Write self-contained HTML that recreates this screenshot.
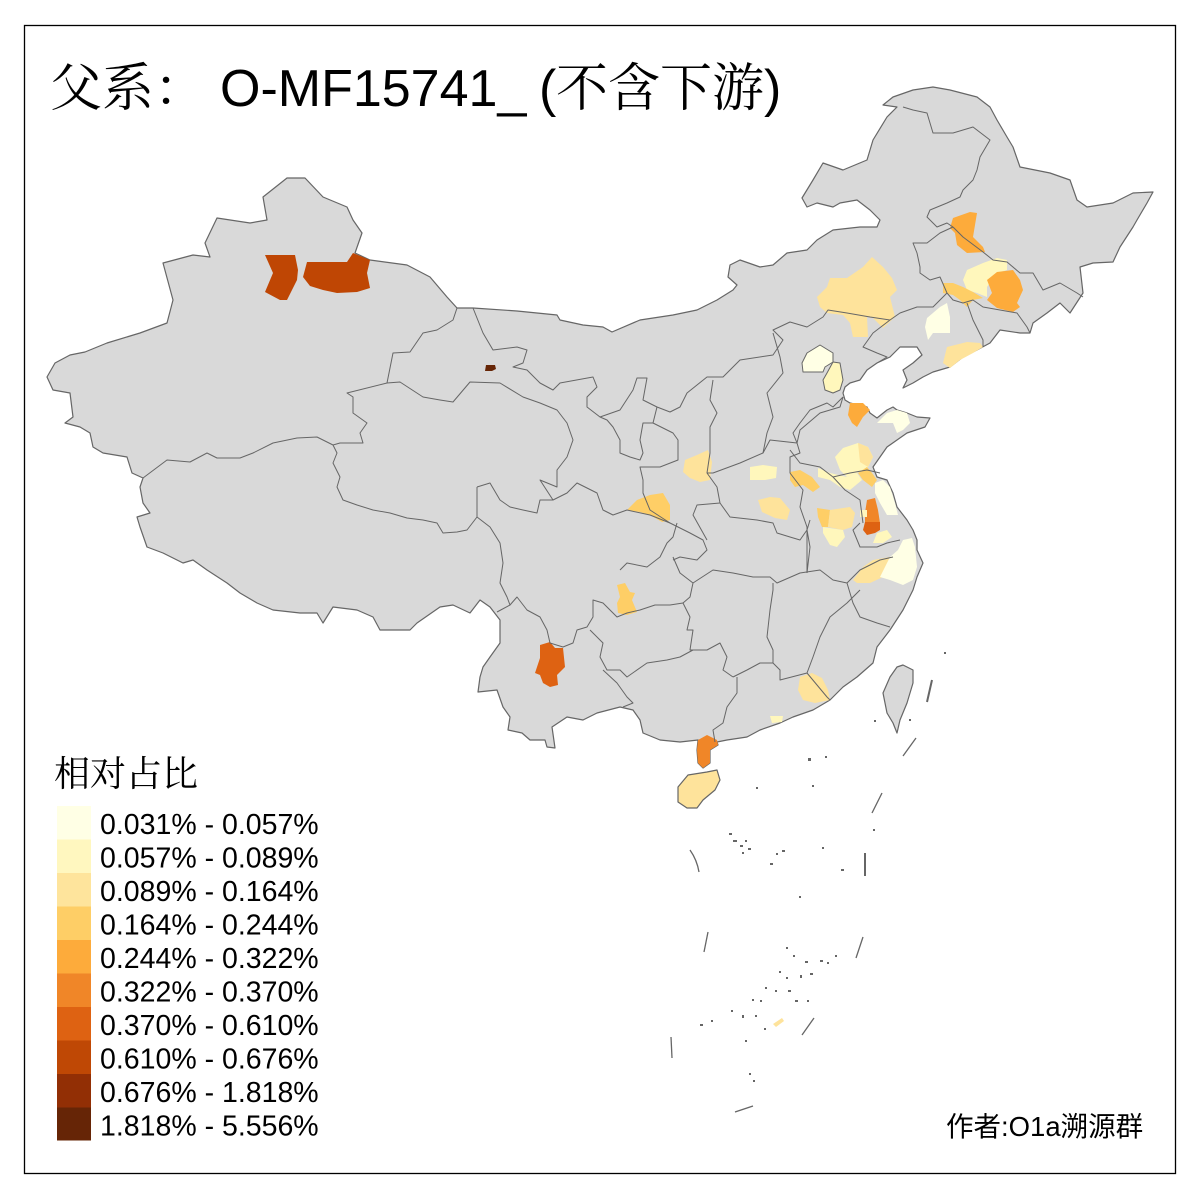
<!DOCTYPE html>
<html><head><meta charset="utf-8">
<style>
html,body{margin:0;padding:0;background:#fff;}
svg{display:block;}
.t{font-family:"Liberation Sans","Noto Sans CJK SC",sans-serif;fill:#000;}
.s{font-family:"Liberation Serif","Noto Serif CJK SC",serif;fill:#000;}
</style></head>
<body>
<svg width="1200" height="1200" viewBox="0 0 1200 1200" xmlns="http://www.w3.org/2000/svg">
<rect x="0" y="0" width="1200" height="1200" fill="#fff"/>
<rect x="24.5" y="25.5" width="1151" height="1148" fill="none" stroke="#000" stroke-width="1.3"/>

<!-- mainland -->
<g stroke="#666" stroke-width="1.2" fill="#d9d9d9" stroke-linejoin="round">
<polygon points="47,377 55,363 70,355 85,352 107,343 140,333 167,323 173,300 163,263 193,255 210,257 205,243 217,218 250,223 267,220 263,197 287,178 305,178 323,197 347,207 353,220 362,233 355,253 370,260 407,265 430,277 447,297 457,308 473,308 517,311 557,315 560,320 583,325 603,327 612,332 640,320 673,315 697,310 717,300 733,290 737,285 728,277 730,265 740,260 760,267 773,265 787,253 807,250 817,240 833,230 860,227 877,227 880,220 870,210 857,200 840,203 833,207 817,203 807,207 802,198 813,180 823,163 843,170 867,160 873,140 887,117 897,107 883,105 893,97 913,90 933,87 950,90 977,97 990,107 997,120 1007,137 1013,147 1020,167 1050,173 1070,180 1077,200 1087,207 1113,203 1133,193 1153,192 1147,203 1137,220 1133,227 1120,247 1113,262 1093,263 1080,267 1083,293 1070,313 1060,303 1047,313 1033,323 1030,333 1020,333 1000,330 990,343 977,350 963,357 950,367 933,372 923,377 913,383 903,388 907,380 903,370 913,363 922,355 917,347 900,347 890,357 877,363 867,370 860,380 850,383 845,387 843,393 845,400 850,403 867,407 870,413 877,418 887,410 893,407 897,410 907,413 917,417 930,418 925,427 907,433 897,440 887,447 880,457 873,467 877,477 887,480 893,493 897,507 907,520 913,530 917,540 917,550 923,563 917,577 913,590 903,610 890,630 877,647 873,663 857,677 843,687 830,700 813,710 793,717 780,723 760,730 747,737 727,740 717,742 718,745 710,750 710,763 703,768 698,763 697,750 698,740 680,742 660,740 643,733 640,720 633,710 620,707 597,713 583,720 567,717 552,727 555,748 547,747 545,740 530,740 522,733 508,730 510,717 503,707 497,690 478,692 480,677 483,667 490,657 500,643 500,620 490,607 480,600 470,613 453,605 440,607 417,623 410,630 380,630 373,617 357,610 333,607 323,623 317,613 300,613 273,610 257,603 240,593 227,583 207,570 193,560 183,563 163,553 147,547 140,527 137,517 150,513 143,503 140,487 143,478 132,473 127,457 103,453 93,447 90,433 80,427 65,423 73,417 70,393 53,390"/>
<!-- Hainan -->
<polygon points="678,787 688,775 707,772 717,770 720,780 715,790 703,800 697,808 687,808 678,802" fill="#fee39b"/>
<!-- Taiwan -->
<polygon points="897,667 903,665 913,670 913,683 907,703 900,720 897,733 893,723 887,713 883,693 890,677"/>
</g>

<!-- colored regions -->
<g stroke="none">
<polygon fill="#bf4604" points="265,255 295,255 298,270 297,280 287,300 280,300 265,292 273,273"/>
<polygon fill="#bf4604" points="307,262 347,262 353,253 370,260 367,273 370,288 357,292 337,293 323,290 310,286 303,277"/>
<polygon fill="#662506" points="486,365 495,365 496,369 492,371 485,371"/>
<polygon fill="#fdab3b" points="953,218 970,212 977,213 973,237 983,247 985,252 967,253 957,245 955,233 950,228"/>
<polygon fill="#fff7bc" points="967,270 983,263 997,258 1007,260 1007,270 997,273 987,287 987,297 977,293 967,290 963,280"/>
<polygon fill="#fece66" points="943,283 953,283 963,287 973,292 983,298 973,300 967,307 960,300 953,295 943,293"/>
<polygon fill="#fdab3b" points="987,280 997,272 1013,270 1020,280 1023,290 1017,303 1020,307 1013,312 997,308 987,300 992,293"/>
<polygon fill="#fee39b" points="817,297 827,287 830,278 847,278 863,267 872,257 883,267 892,278 897,290 890,297 895,317 883,328 873,318 867,317 868,337 853,337 850,323 843,315 827,313 820,307"/>
<polygon fill="#ffffe5" points="927,318 940,307 947,303 950,317 950,333 933,333 928,340 925,327"/>
<polygon fill="#fee39b" points="947,347 967,342 980,343 983,347 973,353 960,360 950,368 943,363"/>
<polygon fill="#ffffe5" points="807,353 820,345 833,353 833,362 825,367 823,372 803,372 802,363"/>
<polygon fill="#fff7bc" points="833,362 840,363 843,380 840,390 833,393 825,390 823,380 827,373"/>
<polygon fill="#fdab3b" points="850,403 863,403 870,410 863,417 857,427 852,423 848,415"/>
<polygon fill="#ffffe5" points="877,423 887,413 897,410 907,413 910,423 903,430 897,433 893,423"/>
<polygon fill="#fff7bc" points="835,457 843,448 858,443 868,447 873,457 868,467 857,473 847,477 840,470"/>
<polygon fill="#fee39b" points="858,443 868,447 873,457 868,467 860,462"/>
<polygon fill="#fff7bc" points="818,468 830,473 847,477 857,473 862,480 850,490 840,487 830,480 818,477"/>
<polygon fill="#fece66" points="858,473 867,467 872,473 877,480 872,487 863,480"/>
<polygon fill="#fece66" points="790,472 800,470 812,477 820,487 813,492 803,485 795,487 790,480"/>
<polygon fill="#fff7bc" points="750,467 763,465 777,467 776,478 765,480 750,480"/>
<polygon fill="#ffffe5" points="875,483 883,480 890,487 895,503 898,515 887,515 880,503 875,493"/>
<polygon fill="#f08628" points="867,500 875,498 878,510 880,523 865,523 865,513"/>
<polygon fill="#de6212" points="865,522 880,522 880,530 875,533 867,535 863,530"/>
<polygon fill="#fece66" points="817,508 830,510 828,527 822,527 818,517"/>
<polygon fill="#fee39b" points="830,510 850,507 855,513 852,527 843,530 828,527"/>
<polygon fill="#fff7bc" points="823,527 843,530 845,537 837,547 830,545 823,533"/>
<polygon fill="#fff7bc" points="860,510 867,510 867,517 860,517"/>
<polygon fill="#fff7bc" points="877,533 887,530 892,537 883,543 873,543"/>
<polygon fill="#fee39b" points="853,580 863,567 873,560 890,557 893,567 883,577 870,583 857,583"/>
<polygon fill="#ffffe5" points="890,557 898,550 903,540 912,538 915,547 917,567 913,580 903,585 890,580 880,577"/>
<polygon fill="#fee39b" points="758,500 770,497 780,498 790,510 787,520 775,518 762,512"/>
<polygon fill="#fee39b" points="685,460 697,455 708,450 712,462 710,480 700,482 690,478 683,472"/>
<polygon fill="#fece66" points="627,510 637,500 650,495 663,493 670,505 670,520 662,522 650,515 640,512"/>
<polygon fill="#fece66" points="617,585 625,583 630,592 635,593 632,600 637,612 627,615 618,613 617,603 620,597"/>
<polygon fill="#de6212" points="540,645 550,642 555,648 563,648 565,667 557,675 558,685 550,687 543,683 540,675 535,673 537,667 540,658"/>
<polygon fill="#f08628" points="698,740 707,735 717,740 718,745 710,750 710,763 703,768 698,763 697,750"/>
<polygon fill="#fee39b" points="800,677 812,673 822,678 828,690 830,700 815,703 803,700 798,690"/>
<polygon fill="#fff7bc" points="770,716 783,716 782,722 772,723"/>
<polygon fill="#fee39b" points="773,1024 782,1018 784,1021 776,1027"/>
</g>

<!-- internal borders -->
<g stroke="#666" stroke-width="1" fill="none" stroke-linejoin="round">
<polyline points="457,308 453,320 437,330 423,333 410,352 393,353 387,383 347,393 353,397 353,413 367,423 360,433 363,443 340,443 333,445"/>
<polyline points="333,445 317,437 297,438 273,443 253,453 240,458 217,458 207,453 190,462 167,460 143,478"/>
<polyline points="333,445 337,453 333,463 340,477 337,487 343,500 357,505 373,510 390,513 407,518 423,520 437,523 443,533 457,532 467,530 477,517 477,487"/>
<polyline points="477,517 490,527 500,543 503,563 500,583 507,597 510,605 497,612"/>
<polyline points="387,383 400,382 423,397 440,400 453,402 470,382 500,383 523,397 540,403 557,410 567,423 573,440 567,457 557,470 557,487 540,480 553,500 567,493 577,483 597,493 603,510 613,515 627,510 650,515 670,523 690,533 703,540 707,550 697,560 680,557 673,560"/>
<polyline points="477,487 490,483 500,500 510,507 523,510 537,513 540,500 553,500"/>
<polyline points="473,308 483,333 493,350 517,347 527,350 523,363 513,367 527,370 540,383 553,390 560,383 593,377 597,387 587,397 587,407 600,417 620,410 633,390 637,378 647,378 643,400 657,407 670,412 680,407 687,393 707,377 723,377 740,360 773,355 783,340 773,330 790,322 807,327 823,317 828,310 847,313 870,317 890,320"/>
<polyline points="600,417 607,420 613,427 620,440 620,453 630,457 640,460 643,453 640,440 643,423 653,423 657,407"/>
<polyline points="653,423 673,433 678,440 678,460 660,467 640,467 643,480 643,493 650,510 670,523"/>
<polyline points="713,380 710,400 717,413 710,427 710,453 707,473 717,487 720,503"/>
<polyline points="773,333 780,357 783,373 767,393 773,417 767,433 763,453 740,463 713,473 707,473"/>
<polyline points="763,453 770,440 797,443 800,430 820,413 840,407 843,397"/>
<polyline points="843,397 833,407 827,403 810,410 800,423 793,433 797,443"/>
<polyline points="797,443 800,453 790,457 790,473 803,490 800,507 807,527 807,557 807,573"/>
<polyline points="720,503 730,517 757,520 773,523 777,533 790,537 800,540 807,530"/>
<polyline points="720,503 697,505 693,515 707,540"/>
<polyline points="620,570 627,563 647,567 660,557 667,543 673,537 677,523"/>
<polyline points="673,557 680,573 693,583 690,597 683,603 690,617 687,630 693,630 690,650 693,650"/>
<polyline points="510,605 517,597 527,610 540,617 547,630 550,643 563,647 573,643 577,630 587,627 593,617 593,600 603,603 610,610 617,617 627,613 640,610 655,605 670,605 683,603"/>
<polyline points="590,630 603,643 600,657 607,670 620,670 627,677 647,663 667,660 680,657 693,650 707,650 720,643 727,657 723,670 733,677"/>
<polyline points="603,670 617,683 627,697 633,703 623,707"/>
<polyline points="737,677 737,693 727,707 723,723 713,730 715,742"/>
<polyline points="733,677 747,670 760,663 773,663 780,670 780,680 807,673 813,657 820,637 830,617 847,603 860,590"/>
<polyline points="773,663 773,650 767,637 770,610 773,590 773,583"/>
<polyline points="693,583 713,570 733,573 753,577 770,577 777,583 800,573 820,570 833,580 847,583 853,603 860,617 877,623 890,627"/>
<polyline points="807,673 827,697 830,700"/>
<polyline points="807,573 810,547 807,530 810,520"/>
<polyline points="847,583 860,570 880,560 893,557"/>
<polyline points="860,523 853,530 860,547 877,547 887,543 900,540"/>
<polyline points="790,450 800,463 820,467 833,477 850,473 867,470 880,473"/>
<polyline points="833,477 845,490 860,500 863,523"/>
<polyline points="903,107 913,110 927,113 933,133 953,133 973,127 990,140 980,157 977,170 973,180 963,190 960,197 947,203 930,210 927,217 937,227 947,223 953,227"/>
<polyline points="953,227 963,237 983,252 993,260 1007,262 1020,273 1033,273 1043,290 1060,283 1077,293 1083,297"/>
<polyline points="953,227 940,233 927,243 913,243 917,253 920,267 920,273 930,280 940,277 947,293"/>
<polyline points="947,293 953,300 963,303 973,300 983,307 1000,310 1017,313 1027,327 1030,333"/>
<polyline points="947,293 933,307 917,307 900,313 890,320 873,333 863,347 877,353 887,357 877,363"/>
<polyline points="967,303 973,320 983,340 983,347"/>
<polygon points="807,353 820,345 833,353 833,362 825,367 823,372 803,372 802,363"/>
<polygon points="833,362 840,363 843,380 840,390 833,393 825,390 823,380 827,373"/>
</g>

<!-- south sea -->
<g stroke="#666" stroke-width="1.3" fill="none">
<path d="M690,850 Q697,860 699,872"/>
<line x1="865" y1="853" x2="865" y2="876" stroke-width="2"/>
<line x1="708" y1="932" x2="704" y2="952"/>
<line x1="863" y1="937" x2="856" y2="958"/>
<line x1="671" y1="1037" x2="672" y2="1058"/>
<line x1="814" y1="1018" x2="802" y2="1035"/>
<line x1="735" y1="1112" x2="753" y2="1106"/>
<line x1="882" y1="793" x2="872" y2="813"/>
<line x1="916" y1="738" x2="903" y2="756"/>
<line x1="932" y1="680" x2="927" y2="702" stroke-width="2"/>
</g>
<g fill="#666">
<rect x="729" y="833" width="3" height="2"/><rect x="733" y="840" width="4" height="2"/><rect x="740" y="845" width="3" height="2"/><rect x="745" y="840" width="2" height="2"/><rect x="748" y="848" width="3" height="2"/><rect x="742" y="852" width="2" height="2"/>
<rect x="776" y="853" width="2" height="2"/><rect x="782" y="850" width="3" height="2"/><rect x="770" y="863" width="3" height="2"/><rect x="822" y="847" width="2" height="2"/><rect x="841" y="869" width="3" height="2"/><rect x="799" y="896" width="2" height="2"/>
<rect x="786" y="947" width="2" height="2"/><rect x="793" y="955" width="2" height="2"/><rect x="805" y="961" width="3" height="2"/><rect x="779" y="971" width="2" height="2"/><rect x="786" y="977" width="2" height="2"/><rect x="800" y="975" width="2" height="3"/><rect x="810" y="973" width="3" height="2"/><rect x="820" y="960" width="3" height="2"/><rect x="827" y="962" width="2" height="2"/><rect x="835" y="955" width="2" height="2"/>
<rect x="765" y="987" width="2" height="2"/><rect x="775" y="990" width="2" height="2"/><rect x="788" y="990" width="3" height="2"/><rect x="752" y="999" width="2" height="2"/><rect x="760" y="1000" width="2" height="2"/><rect x="795" y="1000" width="3" height="2"/><rect x="807" y="1000" width="2" height="2"/>
<rect x="731" y="1010" width="2" height="2"/><rect x="742" y="1015" width="2" height="3"/><rect x="755" y="1015" width="2" height="2"/><rect x="764" y="1028" width="2" height="2"/><rect x="700" y="1024" width="3" height="2"/><rect x="711" y="1020" width="2" height="2"/><rect x="745" y="1040" width="2" height="2"/><rect x="749" y="1073" width="2" height="2"/><rect x="753" y="1080" width="2" height="2"/>
<rect x="808" y="758" width="3" height="3"/><rect x="825" y="756" width="2" height="2"/><rect x="873" y="829" width="2" height="2"/><rect x="812" y="785" width="2" height="2"/><rect x="756" y="787" width="2" height="2"/><rect x="874" y="720" width="2" height="2"/><rect x="909" y="719" width="2" height="2"/><rect x="944" y="652" width="2" height="2"/>
</g>

<!-- title -->
<text class="s" x="50" y="106" font-size="52">父系：</text>
<text class="t" x="220" y="106" font-size="52">O-MF15741_</text>
<text class="t" x="539" y="106" font-size="52">(</text>
<text class="s" x="556" y="106" font-size="52">不含下游</text>
<text class="t" x="764" y="106" font-size="52">)</text>

<!-- legend -->
<text class="s" x="54" y="786" font-size="36">相对占比</text>
<g>
<rect x="57" y="806" width="34" height="34" fill="#ffffe5"/>
<rect x="57" y="839.5" width="34" height="34" fill="#fff7bf"/>
<rect x="57" y="873" width="34" height="34" fill="#fee49c"/>
<rect x="57" y="906.5" width="34" height="34" fill="#fece66"/>
<rect x="57" y="940" width="34" height="34" fill="#fdab3b"/>
<rect x="57" y="973.5" width="34" height="34" fill="#f08628"/>
<rect x="57" y="1007" width="34" height="34" fill="#de6212"/>
<rect x="57" y="1040.5" width="34" height="34" fill="#bf4805"/>
<rect x="57" y="1074" width="34" height="34" fill="#922f05"/>
<rect x="57" y="1107.5" width="34" height="33" fill="#662506"/>
</g>
<g class="t" font-size="28.5">
<text x="100" y="834">0.031% - 0.057%</text>
<text x="100" y="867.5">0.057% - 0.089%</text>
<text x="100" y="901">0.089% - 0.164%</text>
<text x="100" y="934.5">0.164% - 0.244%</text>
<text x="100" y="968">0.244% - 0.322%</text>
<text x="100" y="1001.5">0.322% - 0.370%</text>
<text x="100" y="1035">0.370% - 0.610%</text>
<text x="100" y="1068.5">0.610% - 0.676%</text>
<text x="100" y="1102">0.676% - 1.818%</text>
<text x="100" y="1135.5">1.818% - 5.556%</text>
</g>

<text class="t" x="946" y="1136" font-size="27.5">作者:O1a溯源群</text>
</svg>
</body></html>
